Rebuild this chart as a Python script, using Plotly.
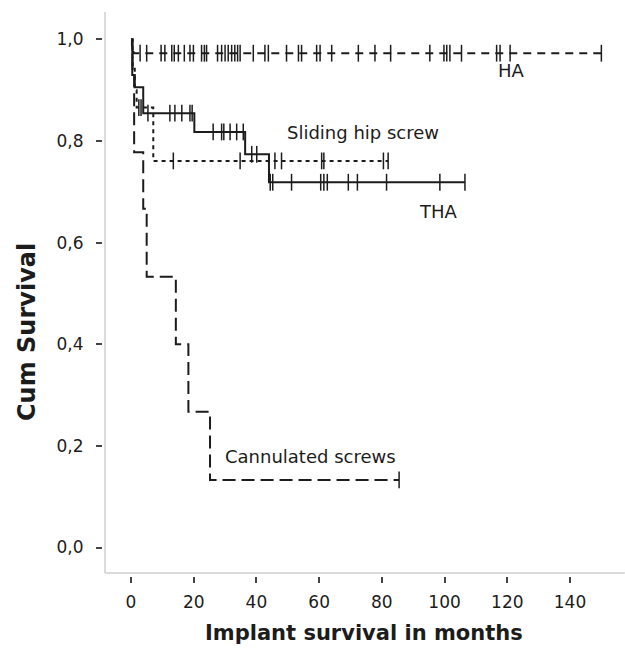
import numpy as np
import plotly.graph_objects as go

# ---- data ----
x_ticks = [0, 20, 40, 60, 80, 100, 120, 140]
y_ticks = [0.0, 0.2, 0.4, 0.6, 0.8, 1.0]
y_tick_labels = ["0,0", "0,2", "0,4", "0,6", "0,8", "1,0"]

ha_times = [0, 0.3, 0.8]
ha_surv = [1.0, 0.985, 0.973]
ha_end = 150
ha_censor = [2.9, 5.0, 9.6, 10.8, 13.0, 13.8, 15.1, 17.0, 18.8, 19.9, 22.5, 23.4, 24.1,
             27.6, 28.9, 30.0, 31.0, 32.1, 33.1, 34.0, 34.8, 39.0, 42.7, 43.8, 49.6, 53.4,
             54.4, 59.2, 60.3, 64.0, 72.5, 77.8, 82.8, 95.3, 99.8, 100.7, 101.7, 105.4,
             116.6, 117.7, 120.9, 150]

shs_times = [0, 0.5, 1.2, 1.8, 7.1]
shs_surv = [1.0, 0.95, 0.90, 0.866, 0.761]
shs_end = 82
shs_censor = [2.5, 3.2, 13.5, 34.8, 45.9, 48.0, 60.8, 61.5, 80.5, 82.0]

tha_times = [0, 0.4, 1.2, 3.9, 20.2, 36.4, 44.0]
tha_surv = [1.0, 0.93, 0.906, 0.855, 0.818, 0.774, 0.719]
tha_end = 106.5
tha_censor = [5.4, 12.4, 14.0, 16.2, 18.8, 19.5, 26.2, 28.9, 29.6, 31.6, 33.7, 35.8,
              38.5, 40.1, 44.4, 45.2, 51.2, 60.5, 61.5, 62.6, 69.3, 72.2, 81.5, 98.5, 106.5]

cs_times = [0, 0.5, 1.0, 3.9, 5.0, 14.3, 18.3, 25.2]
cs_surv = [1.0, 0.933, 0.778, 0.667, 0.533, 0.40, 0.267, 0.133]
cs_end = 85.5
cs_censor = [85.5]

labels = ["HA", "Sliding hip screw", "THA", "Cannulated screws"]

INK = "#1c1c1c"
fig = go.Figure()


def surv_at(times, surv, t):
    idx = np.searchsorted(np.array(times), t, side="right") - 1
    return surv[max(idx, 0)]


series = [
    (ha_times, ha_surv, ha_end, ha_censor, "8px,6px"),
    (shs_times, shs_surv, shs_end, shs_censor, "4px,4px"),
    (tha_times, tha_surv, tha_end, tha_censor, "solid"),
    (cs_times, cs_surv, cs_end, cs_censor, "13px,6px"),
]

for times, surv, end, cens, dash in series:
    xs = list(times) + [end]
    ys = list(surv) + [surv[-1]]
    fig.add_trace(go.Scatter(x=xs, y=ys, mode="lines", line_shape="hv",
                             line=dict(color=INK, width=2, dash=dash),
                             hoverinfo="skip", showlegend=False))
    cy = [surv_at(times, surv, t) for t in cens]
    fig.add_trace(go.Scatter(x=cens, y=cy, mode="markers",
                             marker=dict(symbol="line-ns", size=12,
                                         line=dict(color=INK, width=1.5)),
                             hoverinfo="skip", showlegend=False))

# label annotations (data coords)
label_pos = [(121.3, 0.938), (74.1, 0.816), (98.1, 0.662), (57.1, 0.180)]
for txt, (lx, ly) in zip(labels, label_pos):
    fig.add_annotation(x=lx, y=ly, text=txt, showarrow=False,
                       font=dict(family="DejaVu Sans", size=18, color=INK),
                       xanchor="center", yanchor="middle")

W, H = 625, 650
L, T, B = 103, 12, 74
pw, ph = W - L, H - T - B


def px2paper(px, py):
    return (px - L) / pw, 1 - (py - T) / ph


tx, ty = px2paper(364, 633)
fig.add_annotation(xref="paper", yref="paper", x=tx, y=ty,
                   text="<b>Implant survival in months</b>", showarrow=False,
                   font=dict(family="DejaVu Sans", size=21, color=INK),
                   xanchor="center", yanchor="middle")
yx, yy = px2paper(27, 332)
fig.add_annotation(xref="paper", yref="paper", x=yx, y=yy,
                   text="<b>Cum Survival</b>", showarrow=False, textangle=-90,
                   font=dict(family="DejaVu Sans", size=24, color=INK),
                   xanchor="center", yanchor="middle")

# light gray axis lines (offset from ticks, SPSS style)
XL, YB = -8.29, -0.0502
fig.add_shape(type="line", x0=XL, x1=XL, y0=YB, y1=1.0541, xref="x", yref="y",
              line=dict(color="#cfcfcf", width=1.5))
fig.add_shape(type="line", x0=XL, x1=157.5, y0=YB, y1=YB, xref="x", yref="y",
              line=dict(color="#cfcfcf", width=1.5))

fig.update_layout(
    width=W, height=H,
    margin=dict(l=L, r=0, t=T, b=B, pad=0),
    paper_bgcolor="white", plot_bgcolor="white",
    font=dict(family="DejaVu Sans", color=INK),
    xaxis=dict(range=[-8.93, 157.54], tickvals=x_ticks, ticks="outside", ticklen=6,
               tickwidth=1.5, tickcolor="#444", showgrid=False, zeroline=False,
               showline=False, ticklabelstandoff=5, tickfont=dict(size=17, color=INK)),
    yaxis=dict(range=[-0.0561, 1.0541], tickvals=y_ticks, ticktext=y_tick_labels,
               ticks="outside", ticklen=6, tickwidth=1.5, tickcolor="#444",
               showgrid=False, zeroline=False, showline=False, ticklabelstandoff=9,
               tickfont=dict(size=17, color=INK)),
)

fig.write_html(
    "out.html",
    config={"displayModeBar": False},
    post_script="document.body.style.margin='0';document.body.style.overflow='hidden';",
)
